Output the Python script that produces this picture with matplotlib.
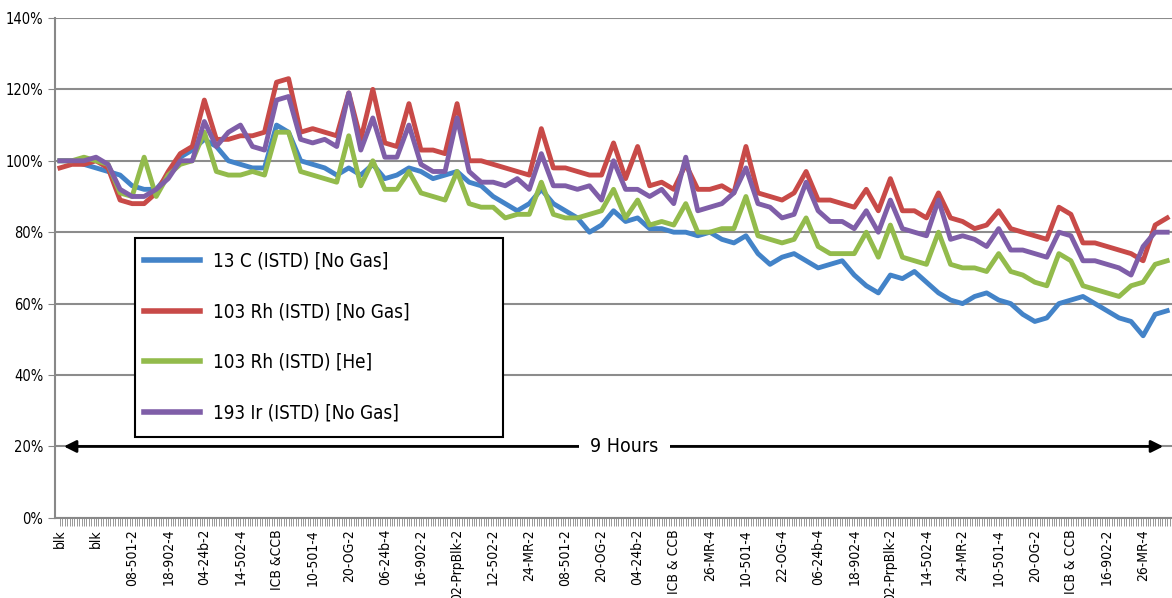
import numpy as np
import matplotlib
matplotlib.use("Agg")
import matplotlib.pyplot as plt
from matplotlib.patches import Rectangle
from matplotlib.ticker import FuncFormatter, MultipleLocator

plt.rcParams['font.family'] = ['DejaVu Sans']
plt.rcParams['font.stretch'] = 'condensed'

# tick labels (one every 3 points)
tick_labels = ["blk", "blk", "08-501-2", "18-902-4", "04-24b-2", "14-502-4", "ICB &CCB",
               "10-501-4", "20-OG-2", "06-24b-4", "16-902-2", "02-PrpBlk-2", "12-502-2",
               "24-MR-2", "08-501-2", "20-OG-2", "04-24b-2", "ICB & CCB", "26-MR-4",
               "10-501-4", "22-OG-4", "06-24b-4", "18-902-4", "02-PrpBlk-2", "14-502-4",
               "24-MR-2", "10-501-4", "20-OG-2", "ICB & CCB", "16-902-2", "26-MR-4"]

c13_nogas = [100, 100, 99, 98, 97, 96, 93, 92, 92, 96, 101, 103, 106, 104, 100, 99, 98, 98, 110, 108,
             100, 99, 98, 96, 98, 96, 99, 95, 96, 98, 97, 95, 96, 97, 94, 93, 90, 88, 86, 88,
             92, 88, 86, 84, 80, 82, 86, 83, 84, 81, 81, 80, 80, 79, 80, 78, 77, 79, 74, 71,
             73, 74, 72, 70, 71, 72, 68, 65, 63, 68, 67, 69, 66, 63, 61, 60, 62, 63, 61, 60,
             57, 55, 56, 60, 61, 62, 60, 58, 56, 55, 51, 57, 58]
rh103_nogas = [98, 99, 99, 100, 98, 89, 88, 88, 91, 97, 102, 104, 117, 106, 106, 107, 107, 108, 122, 123,
               108, 109, 108, 107, 119, 106, 120, 105, 104, 116, 103, 103, 102, 116, 100, 100, 99, 98, 97, 96,
               109, 98, 98, 97, 96, 96, 105, 95, 104, 93, 94, 92, 99, 92, 92, 93, 91, 104, 91, 90,
               89, 91, 97, 89, 89, 88, 87, 92, 86, 95, 86, 86, 84, 91, 84, 83, 81, 82, 86, 81,
               80, 79, 78, 87, 85, 77, 77, 76, 75, 74, 72, 82, 84]
rh103_he = [100, 100, 101, 100, 99, 91, 90, 101, 90, 96, 99, 100, 108, 97, 96, 96, 97, 96, 108, 108,
            97, 96, 95, 94, 107, 93, 100, 92, 92, 97, 91, 90, 89, 97, 88, 87, 87, 84, 85, 85,
            94, 85, 84, 84, 85, 86, 92, 84, 89, 82, 83, 82, 88, 80, 80, 81, 81, 90, 79, 78,
            77, 78, 84, 76, 74, 74, 74, 80, 73, 82, 73, 72, 71, 80, 71, 70, 70, 69, 74, 69,
            68, 66, 65, 74, 72, 65, 64, 63, 62, 65, 66, 71, 72]
ir193_nogas = [100, 100, 100, 101, 99, 92, 90, 90, 92, 95, 100, 100, 111, 104, 108, 110, 104, 103, 117, 118,
               106, 105, 106, 104, 119, 103, 112, 101, 101, 110, 99, 97, 97, 112, 97, 94, 94, 93, 95, 92,
               102, 93, 93, 92, 93, 89, 100, 92, 92, 90, 92, 88, 101, 86, 87, 88, 91, 98, 88, 87,
               84, 85, 94, 86, 83, 83, 81, 86, 80, 89, 81, 80, 79, 89, 78, 79, 78, 76, 81, 75,
               75, 74, 73, 80, 79, 72, 72, 71, 70, 68, 76, 80, 80]

series = [("13 C (ISTD) [No Gas]", c13_nogas, "#4383c8"),
          ("103 Rh (ISTD) [No Gas]", rh103_nogas, "#c84a48"),
          ("103 Rh (ISTD) [He]", rh103_he, "#93bb4c"),
          ("193 Ir (ISTD) [No Gas]", ir193_nogas, "#7f5ea8")]

fig = plt.figure(figsize=(11.72, 5.98), dpi=100)
ax = fig.add_axes([0.047, 0.134, 0.953, 0.836])

x = np.arange(len(c13_nogas))
handles = []
for name, vals, col in series:
    h, = ax.plot(x, vals, color=col, lw=3.5, solid_joinstyle='round', label=name)
    handles.append(h)

ax.set_ylim(0, 140)
ax.set_xlim(-0.4, len(x) - 1)
ax.yaxis.set_major_locator(MultipleLocator(20))
ax.yaxis.set_major_formatter(FuncFormatter(lambda v, p: f"{int(v)}%"))
ax.grid(axis='y', color='#8c8c8c', lw=1.5)
ax.set_axisbelow(True)

ax.set_xticks(np.arange(0, len(x), 3))
ax.set_xticklabels(tick_labels, rotation=90, fontsize=10)
ax.set_xticks(np.arange(0, len(x) - 0.5, 0.2), minor=True)
ax.tick_params(axis='x', which='both', length=6, color='#888888', width=0.6, pad=2)
ax.tick_params(axis='y', length=5, color='#888888', labelsize=10.5)

for s in ['top', 'right']:
    ax.spines[s].set_visible(False)
ax.spines['left'].set_color('#888888')
ax.spines['left'].set_linewidth(1.5)
ax.spines['bottom'].set_color('#888888')
ax.spines['bottom'].set_linewidth(1.5)

# legend box drawn separately (wider than the legend content)
box = Rectangle((135 / 1172, 1 - 437 / 598), 368 / 1172, 199 / 598, transform=fig.transFigure,
                facecolor='white', edgecolor='black', lw=1.5, zorder=5)
fig.patches.append(box)
leg = fig.legend(handles=handles, loc='upper left', bbox_to_anchor=(144 / 1172, 1 - 252 / 598),
                 fontsize=13.5, frameon=False, labelspacing=1.68, handlelength=3.0,
                 handletextpad=0.7, borderpad=0, borderaxespad=0)
leg.set_zorder(6)
for ln in leg.get_lines():
    ln.set_linewidth(4)

# 9 hours arrow
ax.annotate("", xy=(0.1, 20), xytext=(len(x) - 1.1, 20),
            arrowprops=dict(arrowstyle='<|-|>', color='black', lw=2, mutation_scale=18))
ax.text(46.9, 20, "9 Hours", ha='center', va='center', fontsize=14,
        bbox=dict(facecolor='white', edgecolor='none', pad=8))

fig.savefig("out.png", dpi=100)
